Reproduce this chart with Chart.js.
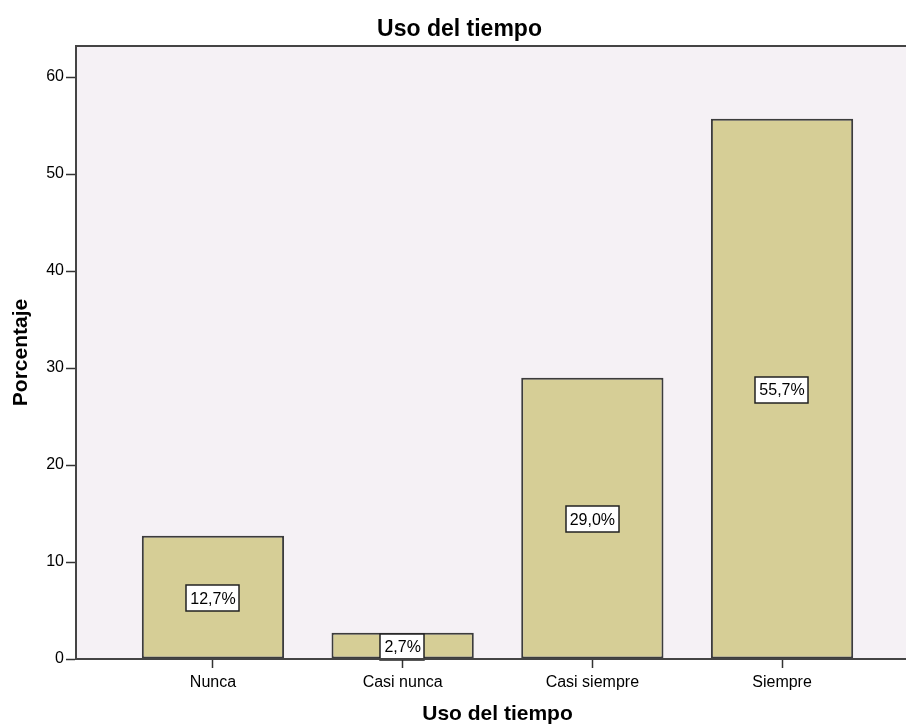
<!DOCTYPE html>
<html>
<head>
<meta charset="utf-8">
<script src="https://cdn.jsdelivr.net/npm/chart.js@4.4.1/dist/chart.umd.min.js"></script>
<style>
    html, body { margin: 0; padding: 0; background: #fff; overflow: hidden; }
    #wrap { position: relative; width: 920px; height: 727px; }
</style>
</head>
<body>
<div id="wrap"><canvas id="usoChart"></canvas></div>
<script>
const categorias = ['Nunca', 'Casi nunca', 'Casi siempre', 'Siempre'];
const porcentajes = [12.7, 2.7, 29.0, 55.7];
const yTicks = [0, 10, 20, 30, 40, 50, 60];

const FONT = "'Liberation Sans', Arial, sans-serif";

// fondo y marco del área de trazado
const framePlugin = {
    id: 'frame',
    beforeDraw(chart) {
        const a = chart.chartArea;
        const ctx = chart.ctx;
        ctx.save();
        ctx.fillStyle = '#f5f1f5';
        ctx.fillRect(a.left, a.top, a.right - a.left, a.bottom - a.top);
        ctx.restore();
    },
    afterDraw(chart) {
        const a = chart.chartArea;
        const ctx = chart.ctx;
        ctx.save();
        ctx.strokeStyle = '#444';
        ctx.lineWidth = 2;
        ctx.strokeRect(a.left, a.top, a.right - a.left, a.bottom - a.top);
        ctx.restore();
    }
};

// etiquetas en caja blanca a media altura de cada barra
const boxLabels = {
    id: 'boxLabels',
    afterDatasetsDraw(chart) {
        const ctx = chart.ctx;
        const meta = chart.getDatasetMeta(0);
        ctx.save();
        ctx.font = '16px ' + FONT;
        ctx.textAlign = 'center';
        ctx.textBaseline = 'middle';
        meta.data.forEach((bar, i) => {
            const txt = porcentajes[i].toFixed(1).replace('.', ',') + '%';
            const w = ctx.measureText(txt).width + 8;
            const h = 26;
            const cx = bar.x;
            const cy = (bar.y + bar.base) / 2 + 1;
            ctx.fillStyle = '#fff';
            ctx.fillRect(Math.round(cx - w / 2), Math.round(cy - h / 2), Math.round(w), h);
            ctx.strokeStyle = '#222';
            ctx.lineWidth = 1.5;
            ctx.strokeRect(Math.round(cx - w / 2), Math.round(cy - h / 2), Math.round(w), h);
            ctx.fillStyle = '#000';
            ctx.fillText(txt, cx, cy + 1);
        });
        ctx.restore();
    }
};

const ctx = document.getElementById('usoChart').getContext('2d');
const usoChart = new Chart(ctx, {
    type: 'bar',
    data: {
        datasets: [{
            label: 'Porcentaje',
            data: categorias.map((c, i) => ({ x: i, y: porcentajes[i] })),
            backgroundColor: '#d6ce96',
            borderColor: '#3c3c3c',
            borderWidth: 2,
            borderSkipped: false,
            barPercentage: 0.75,
            categoryPercentage: 1.0
        }]
    },
    options: {
        responsive: true,
        maintainAspectRatio: false,
        animation: false,
        layout: { padding: { left: 0, right: 1, top: 0, bottom: 0 } },
        plugins: {
            legend: { display: false },
            tooltip: { enabled: false },
            title: {
                display: true,
                text: 'Uso del tiempo',
                color: '#000',
                font: { family: FONT, size: 23, weight: 'bold' },
                padding: { top: 16, bottom: 2.4 }
            }
        },
        scales: {
            x: {
                type: 'linear',
                offset: false,
                min: -0.722,
                max: 3.722,
                afterBuildTicks(scale) {
                    scale.ticks = categorias.map((c, i) => ({ value: i }));
                },
                afterFit(scale) {
                    scale.height = 68;
                },
                grid: {
                    offset: false,
                    drawOnChartArea: false,
                    drawTicks: true,
                    tickLength: 9,
                    tickWidth: 1.5,
                    color: '#333'
                },
                border: { display: true, color: '#333', width: 2 },
                ticks: {
                    color: '#000',
                    padding: 5,
                    autoSkip: false,
                    maxRotation: 0,
                    font: { family: FONT, size: 16 },
                    callback: function(value) {
                        return categorias[value] !== undefined ? categorias[value] : '';
                    }
                },
                title: {
                    display: true,
                    text: 'Uso del tiempo',
                    color: '#000',
                    font: { family: FONT, size: 21, weight: 'bold' },
                    padding: { top: 0, bottom: 0 }
                }
            },
            y: {
                min: 0,
                max: 63.2,
                afterBuildTicks(scale) {
                    scale.ticks = yTicks.map(v => ({ value: v }));
                },
                afterFit(scale) {
                    scale.width = 76;
                },
                grid: {
                    drawOnChartArea: false,
                    drawTicks: true,
                    tickLength: 10,
                    tickWidth: 1.5,
                    color: '#333'
                },
                border: { display: true, color: '#333', width: 2 },
                ticks: {
                    color: '#000',
                    padding: 2,
                    font: { family: FONT, size: 16 }
                },
                title: {
                    display: true,
                    text: 'Porcentaje',
                    color: '#000',
                    font: { family: FONT, size: 21, weight: 'bold' },
                    padding: { top: 9, bottom: 0 }
                }
            }
        }
    },
    plugins: [framePlugin, boxLabels]
});
</script>
</body>
</html>
